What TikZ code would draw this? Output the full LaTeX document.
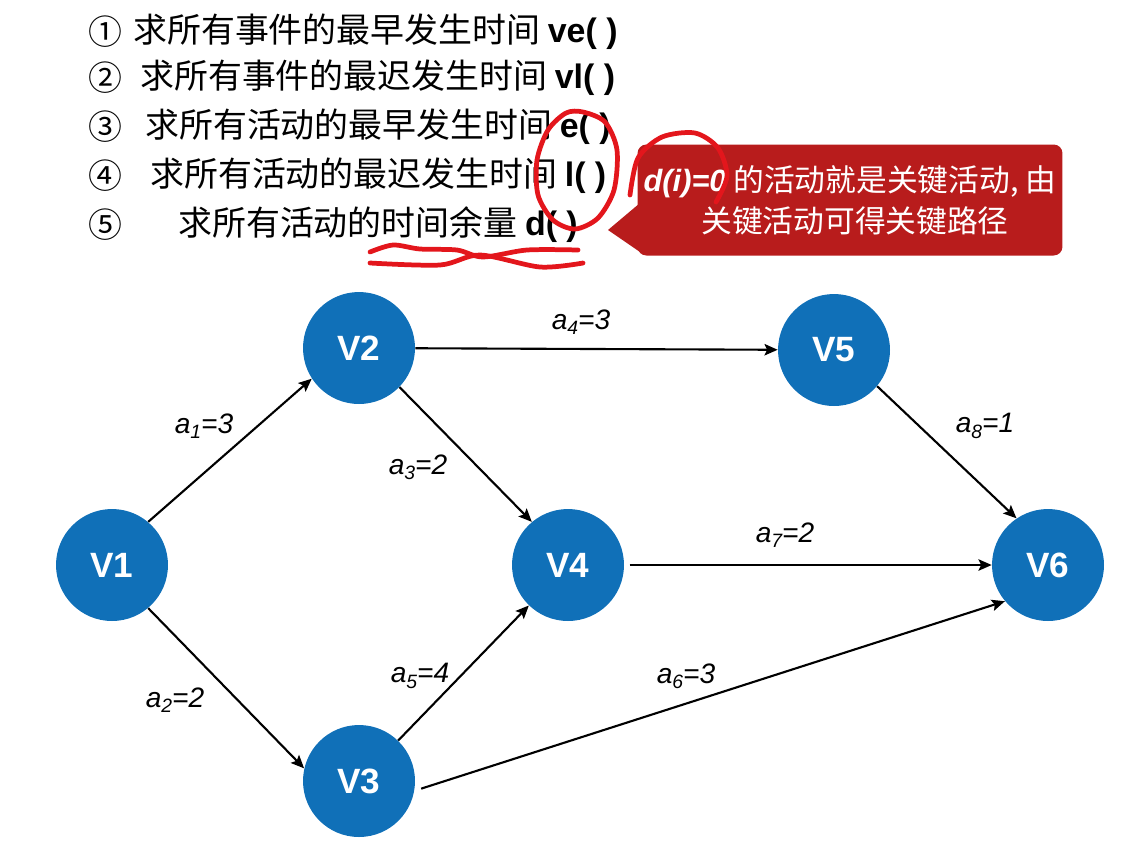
\documentclass[tikz,border=0pt]{standalone}
\usepackage{fontspec}
\setmainfont{Liberation Sans}
\newfontfamily\cjk{Noto Sans CJK SC}
\usepackage{tikz}
\usetikzlibrary{
  arrows.meta,
  shapes.geometric,
}
\definecolor{vertblue}{HTML}{1070B8}
\definecolor{notered}{HTML}{B81C1C}
\definecolor{penred}{HTML}{E3161C}
\tikzset{
  vertex/.style={circle, fill=vertblue, minimum size=2.24cm, inner sep=0pt,
    text=white, font=\bfseries\fontsize{20}{24}\selectfont},
  act/.style={-{Stealth[length=7.5pt,width=6.5pt,inset=1.5pt]}, line width=1.2pt},
  actlab/.style={font=\itshape\fontsize{16}{19}\selectfont, inner sep=0pt},
  item/.style={anchor=west, inner sep=0pt, font=\cjk\fontsize{19.3}{23}\selectfont},
  pen/.style={penred, line width=2.7pt, line cap=round, line join=round},
}
\newcommand\actname[2]{a\raisebox{-0.35ex}{\fontsize{11}{11}\selectfont #1}=#2}

\begin{document}
\begin{tikzpicture}[x=0.02cm, y=-0.02cm]
  \useasboundingbox (0,0) rectangle (1138,840);
  % steps
  \node[item] (num1) at (88,32)  {①};
  \node[item] (num2) at (88,78)  {②};
  \node[item] (num3) at (88,127) {③};
  \node[item] (num4) at (88,176) {④};
  \node[item] (num5) at (88,225) {⑤};
  \node[item] (step1) at (133,32)  {求所有事件的最早发生时间 {\normalfont\bfseries ve( )}};
  \node[item] (step2) at (140,78)  {求所有事件的最迟发生时间 {\normalfont\bfseries vl( )}};
  \node[item] (step3) at (145,127) {求所有活动的最早发生时间 {\normalfont\bfseries e( )}};
  \node[item] (step4) at (150,176) {求所有活动的最迟发生时间 {\normalfont\bfseries l( )}};
  \node[item] (step5) at (178,225) {求所有活动的时间余量 {\normalfont\bfseries d( )}};
  % callout
  \fill[notered] (640,203) -- (608,230) -- (640,252) -- cycle;
  \node[rectangle, rounded corners=5pt, fill=notered, text=white,
    minimum width=8.5cm, minimum height=2.22cm, align=center,
    font=\cjk\fontsize{17.5}{23.5}\selectfont] (tip) at (850,200)
    {{\normalfont\bfseries\itshape d(i)=0} 的活动就是关键活动, 由\\
     \hspace*{0.2cm}关键活动可得关键路径};
  % pen marks
  \draw[pen] plot[smooth cycle] coordinates {(583,112) (605,122) (617,150)
    (614,190) (598,218) (575,229) (553,220) (538,195) (537,160) (548,130) (566,113)};
  \draw[pen] plot[smooth] coordinates {(630,195) (638,158) (662,137) (695,133)
    (718,148) (727,176) (716,202)};
  \draw[pen] plot[smooth] coordinates {(370,252) (393,245) (420,249) (457,250)
    (483,257) (527,250) (578,250)};
  \draw[pen] plot[smooth] coordinates {(370,263) (440,265) (480,255) (540,267) (583,263)};
  % events
  \node[vertex] (V1) at (112,565) {V1};
  \node[vertex] (V2) at (359,348) {V2};
  \node[vertex] (V3) at (359,781) {V3};
  \node[vertex] (V4) at (568,565) {V4};
  \node[vertex] (V5) at (834,350) {V5};
  \node[vertex] (V6) at (1048,565) {V6};
  % activities
  \draw[act] (V1.50) -- (V2.213);
  \draw[act] (V1.-50) -- (V3.167);
  \draw[act] (V2.-44) -- (V4.130);
  \draw[act] (V2) -- (V5);
  \draw[act] (V3) -- (V4);
  \draw[act, shorten <=4pt] (V3.-10) -- (V6.220);
  \draw[act, shorten <=3pt] (V4) -- (V6);
  \draw[act] (V5.-40) -- (V6.124);
  \node[actlab] (w1) at (204,426) {\actname{1}{3}};
  \node[actlab] (w2) at (175,700) {\actname{2}{2}};
  \node[actlab] (w3) at (418,467) {\actname{3}{2}};
  \node[actlab] (w4) at (581,322) {\actname{4}{3}};
  \node[actlab] (w5) at (420,676) {\actname{5}{4}};
  \node[actlab] (w6) at (686,676) {\actname{6}{3}};
  \node[actlab] (w7) at (785,535) {\actname{7}{2}};
  \node[actlab] (w8) at (985,426) {\actname{8}{1}};
\end{tikzpicture}
\end{document}
